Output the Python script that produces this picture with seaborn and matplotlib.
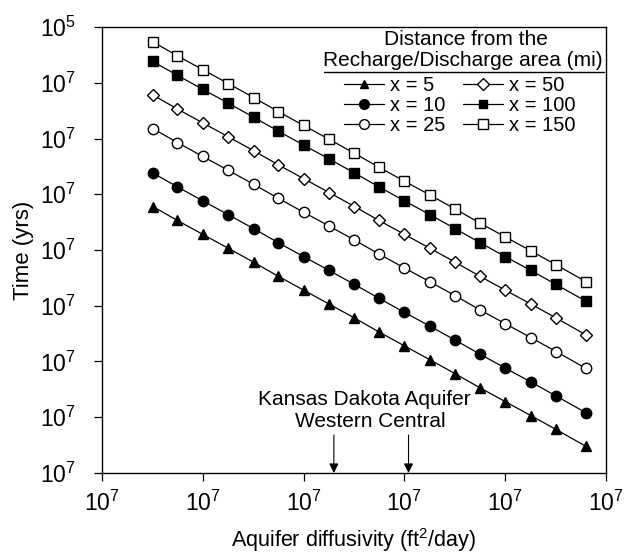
import numpy as np
import pandas as pd
import matplotlib
matplotlib.use("Agg")
import matplotlib.pyplot as plt
from matplotlib.lines import Line2D
import seaborn as sns

# ---- data ----
diffusivity = [3.2e4, 5.6e4, 1.0e5, 1.8e5, 3.2e5, 5.6e5, 1.0e6, 1.8e6, 3.2e6,
               5.6e6, 1.0e7, 1.8e7, 3.2e7, 5.6e7, 1.0e8, 1.8e8, 3.2e8, 6.3e8]
t_x5 = [60.3, 33.9, 19.1, 10.7, 6.03, 3.39, 1.91, 1.07, 0.603, 0.339, 0.191,
        0.107, 0.0603, 0.0339, 0.0191, 0.0107, 0.00603, 0.00302]
t_x10 = [241, 136, 76.3, 42.9, 24.1, 13.6, 7.63, 4.29, 2.41, 1.36, 0.763,
         0.429, 0.241, 0.136, 0.0763, 0.0429, 0.0241, 0.0121]
t_x25 = [1508, 848, 477, 268, 151, 84.8, 47.7, 26.8, 15.1, 8.48, 4.77, 2.68,
         1.51, 0.848, 0.477, 0.268, 0.151, 0.0755]
t_x50 = [6030, 3390, 1910, 1070, 603, 339, 191, 107, 60.3, 33.9, 19.1, 10.7,
         6.03, 3.39, 1.91, 1.07, 0.603, 0.302]
t_x100 = [24100, 13600, 7630, 4290, 2410, 1360, 763, 429, 241, 136, 76.3,
          42.9, 24.1, 13.6, 7.63, 4.29, 2.41, 1.21]
t_x150 = [54300, 30500, 17200, 9650, 5430, 3050, 1720, 965, 543, 305, 172,
          96.5, 54.3, 30.5, 17.2, 9.65, 5.43, 2.72]
series_labels = ["x = 5", "x = 10", "x = 25", "x = 50", "x = 100", "x = 150"]
series_values = [t_x5, t_x10, t_x25, t_x50, t_x100, t_x150]

x_ticks = [1e4, 1e5, 1e6, 1e7, 1e8, 1e9]
x_tick_labels = [r"$\mathregular{10^{7}}$"] * 6
y_ticks = [1e-3, 1e-2, 1e-1, 1e0, 1e1, 1e2, 1e3, 1e4, 1e5]
y_tick_labels = [r"$\mathregular{10^{7}}$"] * 8 + [r"$\mathregular{10^{5}}$"]

legend_title = ["Distance from the", "Recharge/Discharge area (mi)"]
annotation_lines = ["Kansas Dakota Aquifer", "Western Central"]
arrow_x = [2.0e6, 1.1e7]

# ---- styling ----
sns.set_style("ticks")
plt.rcParams["font.family"] = ["Liberation Sans", "DejaVu Sans"]
plt.rcParams["mathtext.fontset"] = "custom"
plt.rcParams["mathtext.rm"] = "Liberation Sans"
plt.rcParams["mathtext.it"] = "Liberation Sans:italic"
plt.rcParams["mathtext.bf"] = "Liberation Sans:bold"
plt.rcParams["text.color"] = "black"
plt.rcParams["axes.labelcolor"] = "black"
plt.rcParams["xtick.color"] = "black"
plt.rcParams["ytick.color"] = "black"

markers = ["^", "o", "o", "D", "s", "s"]
facecolors = ["black", "black", "white", "white", "black", "white"]
msizes = [7.5, 7.5, 7.5, 6.0, 6.5, 7.5]
leg_msizes = [6.0, 7.0, 7.0, 6.0, 6.0, 7.0]

rows = []
for lab, vals in zip(series_labels, series_values):
    for d, t in zip(diffusivity, vals):
        rows.append({"D": d, "t": t, "series": lab})
df = pd.DataFrame(rows)

fig = plt.figure(figsize=(6.29, 5.56), dpi=100)
ax = fig.add_axes([0.162, 0.1493, 0.8014, 0.8021])

for lab, mk, fc, ms in zip(series_labels, markers, facecolors, msizes):
    sub = df[df["series"] == lab]
    sns.lineplot(data=sub, x="D", y="t", ax=ax, color="black", lw=0.9,
                 marker=mk, markersize=ms, markerfacecolor=fc,
                 markeredgecolor="black", markeredgewidth=1.0,
                 label=lab, legend=False)

ax.set_xscale("log")
ax.set_yscale("log")
ax.set_xlim(1e4, 1e9)
ax.set_ylim(1e-3, 1e5)
ax.set_xticks(x_ticks)
ax.set_xticklabels(x_tick_labels)
ax.set_yticks(y_ticks)
ax.set_yticklabels(y_tick_labels)
ax.minorticks_off()
ax.tick_params(axis="both", which="major", direction="out", length=6,
               width=0.9, labelsize=16.5, colors="black")
ax.tick_params(axis="x", pad=7)
ax.tick_params(axis="y", pad=13)
for s in ax.spines.values():
    s.set_visible(True)
    s.set_linewidth(1.0)
    s.set_color("black")

ax.set_xlabel(r"Aquifer diffusivity (ft$^2$/day)", fontsize=15.5, labelpad=7)
ax.set_ylabel("Time (yrs)", fontsize=16, labelpad=4)

# legend
handles = []
for lab, mk, fc, ms in zip(series_labels, markers, facecolors, leg_msizes):
    handles.append(Line2D([0], [0], color="black", lw=0.9, marker=mk,
                          markersize=ms, markerfacecolor=fc,
                          markeredgecolor="black", markeredgewidth=1.0))
leg = ax.legend(handles, series_labels, ncol=2, frameon=False,
                fontsize=14.5, loc="upper center",
                bbox_to_anchor=(0.71, 0.921), handlelength=2.0,
                handletextpad=0.3, columnspacing=0.85, labelspacing=0.05,
                borderpad=0.2)
ax.text(0.722, 0.973, legend_title[0], transform=ax.transAxes, ha="center",
        va="center", fontsize=15)
ax.text(0.716, 0.924, legend_title[1], transform=ax.transAxes, ha="center",
        va="center", fontsize=15)
ax.add_line(Line2D([0.44, 0.996], [0.899, 0.899], transform=ax.transAxes,
                   color="black", lw=1.0))

# annotation
for xa in arrow_x:
    ax.annotate("", xy=(xa, 1e-3), xytext=(xa, 10 ** -2.32),
                arrowprops=dict(arrowstyle="-|>", color="black", lw=0.8,
                                mutation_scale=14, shrinkA=0, shrinkB=0))
ax.text(10 ** 2.6 * 1e4, 10 ** -1.69, annotation_lines[0], ha="center",
        va="center", fontsize=15)
ax.text(10 ** 2.66 * 1e4, 10 ** -2.085, annotation_lines[1], ha="center",
        va="center", fontsize=15)

fig.savefig("out.png", dpi=100)
